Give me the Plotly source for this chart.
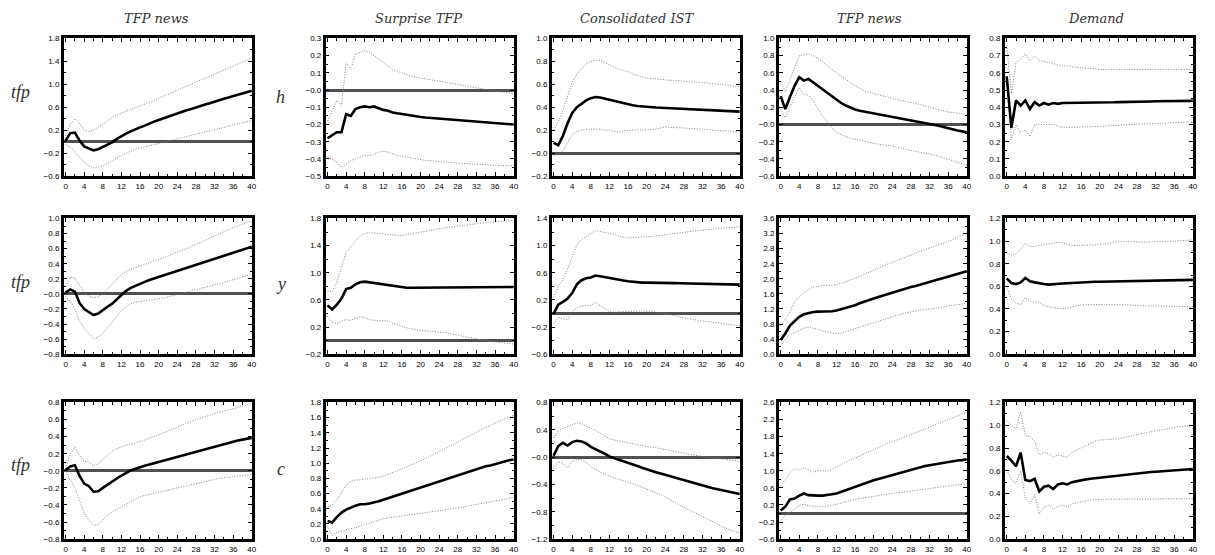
import plotly.graph_objects as go

steps = list(range(41))

# ---------------- Row 1 ----------------
p11_mean = [0.02,0.15,0.16,0.02,-0.08,-0.12,-0.15,-0.13,-0.09,-0.05,-0.01,0.05,0.10,0.14,0.18,0.22,0.25,0.28,0.32,0.35,0.38,0.41,0.44,0.47,0.50,0.52,0.55,0.57,0.60,0.62,0.65,0.67,0.70,0.72,0.75,0.77,0.80,0.82,0.84,0.87,0.89]
p11_upper = [0.10,0.30,0.40,0.32,0.20,0.18,0.20,0.25,0.30,0.36,0.42,0.47,0.50,0.53,0.56,0.59,0.62,0.65,0.69,0.72,0.76,0.79,0.83,0.86,0.90,0.93,0.97,1.00,1.04,1.07,1.11,1.14,1.18,1.21,1.25,1.28,1.32,1.35,1.39,1.42,1.46]
p11_lower = [-0.05,-0.10,-0.18,-0.28,-0.36,-0.42,-0.45,-0.44,-0.42,-0.38,-0.33,-0.28,-0.24,-0.20,-0.16,-0.13,-0.11,-0.09,-0.07,-0.05,-0.03,-0.01,0.01,0.03,0.05,0.07,0.09,0.11,0.13,0.15,0.17,0.19,0.21,0.23,0.25,0.27,0.29,0.31,0.33,0.35,0.37]

p12_mean = [-0.28,-0.26,-0.245,-0.245,-0.14,-0.15,-0.11,-0.10,-0.095,-0.10,-0.095,-0.105,-0.115,-0.12,-0.13,-0.135,-0.14,-0.145,-0.15,-0.153,-0.156,-0.159,-0.161,-0.163,-0.165,-0.167,-0.168,-0.17,-0.172,-0.174,-0.176,-0.178,-0.18,-0.182,-0.184,-0.186,-0.188,-0.19,-0.193,-0.196,-0.2]
p12_upper = [-0.18,-0.12,-0.06,-0.09,0.16,0.12,0.21,0.22,0.23,0.22,0.20,0.18,0.16,0.14,0.12,0.11,0.10,0.09,0.08,0.075,0.07,0.065,0.06,0.055,0.05,0.045,0.04,0.035,0.03,0.025,0.02,0.015,0.01,0.005,0.0,-0.003,-0.006,-0.009,-0.012,-0.015,-0.02]
p12_lower = [-0.39,-0.40,-0.42,-0.45,-0.43,-0.41,-0.40,-0.39,-0.38,-0.38,-0.375,-0.36,-0.355,-0.36,-0.37,-0.38,-0.385,-0.39,-0.395,-0.40,-0.405,-0.408,-0.41,-0.413,-0.415,-0.418,-0.42,-0.422,-0.424,-0.426,-0.428,-0.43,-0.432,-0.434,-0.435,-0.436,-0.437,-0.438,-0.439,-0.44,-0.44]

p13_mean = [0.09,0.07,0.15,0.26,0.35,0.40,0.43,0.46,0.48,0.49,0.485,0.475,0.465,0.455,0.445,0.435,0.425,0.418,0.412,0.407,0.403,0.40,0.398,0.396,0.394,0.392,0.39,0.388,0.386,0.384,0.382,0.38,0.378,0.376,0.374,0.372,0.37,0.368,0.366,0.364,0.362]
p13_upper = [0.20,0.27,0.37,0.50,0.62,0.69,0.74,0.78,0.80,0.81,0.81,0.79,0.77,0.75,0.73,0.72,0.71,0.69,0.675,0.665,0.655,0.65,0.645,0.64,0.64,0.635,0.635,0.63,0.63,0.625,0.62,0.62,0.615,0.61,0.605,0.60,0.595,0.59,0.585,0.58,0.58]
p13_lower = [-0.02,-0.01,0.02,0.09,0.16,0.19,0.20,0.21,0.21,0.21,0.21,0.20,0.20,0.19,0.185,0.195,0.20,0.20,0.205,0.20,0.20,0.205,0.21,0.22,0.23,0.225,0.225,0.22,0.22,0.215,0.215,0.21,0.21,0.205,0.20,0.20,0.195,0.195,0.19,0.19,0.19]

p14_mean = [0.33,0.18,0.32,0.45,0.55,0.51,0.53,0.49,0.44,0.40,0.36,0.32,0.28,0.25,0.22,0.195,0.175,0.16,0.15,0.14,0.13,0.12,0.11,0.10,0.09,0.08,0.07,0.06,0.05,0.04,0.03,0.02,0.01,0.0,-0.015,-0.03,-0.045,-0.06,-0.07,-0.08,-0.09]
p14_upper = [0.50,0.38,0.52,0.67,0.80,0.81,0.82,0.80,0.77,0.73,0.68,0.64,0.60,0.56,0.52,0.48,0.45,0.42,0.39,0.375,0.36,0.345,0.33,0.315,0.30,0.29,0.28,0.27,0.26,0.245,0.23,0.215,0.20,0.19,0.175,0.16,0.145,0.14,0.13,0.125,0.12]
p14_lower = [0.18,0.08,0.20,0.32,0.43,0.35,0.34,0.28,0.18,0.10,0.03,-0.04,-0.09,-0.12,-0.14,-0.16,-0.17,-0.18,-0.19,-0.205,-0.22,-0.23,-0.24,-0.245,-0.25,-0.26,-0.275,-0.29,-0.30,-0.31,-0.32,-0.33,-0.34,-0.355,-0.37,-0.385,-0.40,-0.42,-0.44,-0.455,-0.47]

p15_mean = [0.58,0.28,0.44,0.41,0.44,0.39,0.43,0.41,0.425,0.415,0.425,0.42,0.425,0.425,0.425,0.425,0.425,0.425,0.425,0.425,0.425,0.427,0.428,0.429,0.43,0.43,0.43,0.43,0.43,0.432,0.433,0.434,0.435,0.435,0.435,0.435,0.435,0.436,0.436,0.437,0.437]
p15_upper = [0.76,0.48,0.66,0.68,0.71,0.67,0.70,0.67,0.665,0.66,0.655,0.645,0.64,0.64,0.635,0.632,0.63,0.627,0.623,0.62,0.62,0.62,0.62,0.62,0.62,0.62,0.62,0.62,0.62,0.62,0.62,0.62,0.62,0.62,0.62,0.62,0.62,0.62,0.62,0.62,0.62]
p15_lower = [0.56,0.21,0.30,0.25,0.27,0.23,0.30,0.30,0.30,0.30,0.30,0.29,0.283,0.283,0.283,0.284,0.285,0.286,0.287,0.288,0.29,0.292,0.294,0.296,0.298,0.30,0.30,0.301,0.302,0.303,0.304,0.305,0.305,0.306,0.308,0.31,0.31,0.31,0.312,0.313,0.315]

# ---------------- Row 2 ----------------
p21_mean = [0.02,0.06,0.03,-0.12,-0.20,-0.24,-0.28,-0.26,-0.21,-0.17,-0.13,-0.07,-0.01,0.04,0.08,0.11,0.14,0.16,0.185,0.205,0.225,0.245,0.265,0.285,0.305,0.325,0.345,0.365,0.385,0.405,0.425,0.445,0.465,0.485,0.505,0.525,0.545,0.565,0.585,0.605,0.625]
p21_upper = [0.10,0.22,0.21,0.12,0.02,-0.03,-0.05,-0.04,0.0,0.06,0.13,0.20,0.26,0.30,0.33,0.35,0.37,0.39,0.41,0.43,0.45,0.48,0.50,0.53,0.55,0.58,0.60,0.63,0.65,0.68,0.71,0.74,0.77,0.80,0.82,0.85,0.88,0.90,0.93,0.95,0.97]
p21_lower = [-0.03,-0.10,-0.20,-0.36,-0.46,-0.53,-0.60,-0.57,-0.52,-0.45,-0.37,-0.29,-0.22,-0.17,-0.13,-0.11,-0.10,-0.09,-0.08,-0.075,-0.07,-0.055,-0.04,-0.02,0.0,0.01,0.025,0.04,0.05,0.07,0.085,0.10,0.12,0.135,0.15,0.17,0.19,0.205,0.22,0.24,0.26]

p22_mean = [0.52,0.46,0.53,0.62,0.76,0.78,0.83,0.86,0.87,0.86,0.85,0.84,0.83,0.815,0.80,0.79,0.785,0.78,0.78,0.78,0.78,0.78,0.782,0.785,0.787,0.79,0.79,0.79,0.79,0.79,0.79,0.79,0.79,0.79,0.79,0.79,0.79,0.79,0.79,0.79,0.79]
p22_upper = [0.73,0.72,0.86,1.10,1.30,1.38,1.47,1.54,1.58,1.59,1.59,1.58,1.57,1.56,1.55,1.55,1.55,1.56,1.57,1.585,1.60,1.61,1.625,1.64,1.65,1.66,1.67,1.68,1.69,1.70,1.71,1.72,1.73,1.735,1.74,1.745,1.75,1.755,1.76,1.765,1.77]
p22_lower = [0.36,0.27,0.25,0.29,0.31,0.30,0.33,0.35,0.34,0.31,0.30,0.30,0.30,0.29,0.26,0.23,0.21,0.19,0.175,0.16,0.15,0.145,0.14,0.135,0.13,0.12,0.11,0.095,0.08,0.065,0.05,0.035,0.02,0.01,0.0,-0.01,-0.02,-0.03,-0.04,-0.045,-0.05]

p23_mean = [-0.01,0.13,0.17,0.22,0.30,0.43,0.49,0.52,0.53,0.56,0.55,0.535,0.52,0.505,0.495,0.485,0.475,0.465,0.46,0.455,0.455,0.452,0.45,0.45,0.45,0.45,0.448,0.446,0.445,0.444,0.443,0.442,0.44,0.438,0.436,0.434,0.432,0.43,0.428,0.426,0.425]
p23_upper = [0.24,0.40,0.50,0.65,0.84,1.01,1.09,1.14,1.18,1.22,1.21,1.20,1.19,1.17,1.14,1.12,1.11,1.12,1.12,1.125,1.13,1.135,1.14,1.15,1.16,1.17,1.18,1.19,1.20,1.205,1.21,1.22,1.23,1.235,1.24,1.25,1.26,1.265,1.27,1.275,1.28]
p23_lower = [-0.15,-0.06,-0.07,-0.10,0.03,0.08,0.11,0.12,0.12,0.16,0.12,0.07,0.03,0.02,0.025,0.03,0.035,0.035,0.035,0.035,0.035,0.03,0.02,0.01,0.0,-0.015,-0.03,-0.05,-0.065,-0.08,-0.09,-0.10,-0.11,-0.12,-0.13,-0.14,-0.15,-0.16,-0.165,-0.17,-0.18]

p24_mean = [0.38,0.55,0.76,0.88,0.99,1.06,1.10,1.12,1.13,1.13,1.13,1.14,1.16,1.19,1.22,1.26,1.30,1.35,1.40,1.44,1.48,1.52,1.56,1.60,1.63,1.67,1.71,1.74,1.78,1.81,1.85,1.88,1.92,1.95,1.99,2.02,2.06,2.09,2.13,2.16,2.20]
p24_upper = [0.75,0.92,1.12,1.40,1.52,1.63,1.72,1.78,1.81,1.82,1.83,1.84,1.85,1.88,1.92,1.96,2.00,2.06,2.12,2.18,2.24,2.29,2.34,2.39,2.44,2.48,2.53,2.57,2.62,2.67,2.72,2.77,2.82,2.86,2.90,2.94,2.98,3.04,3.10,3.16,3.22]
p24_lower = [0.22,0.40,0.52,0.58,0.64,0.69,0.72,0.70,0.66,0.62,0.60,0.57,0.55,0.56,0.60,0.64,0.68,0.72,0.76,0.80,0.85,0.89,0.93,0.97,1.01,1.04,1.07,1.10,1.13,1.15,1.17,1.18,1.20,1.22,1.24,1.26,1.27,1.29,1.31,1.33,1.35]

p25_mean = [0.67,0.63,0.62,0.635,0.675,0.645,0.635,0.625,0.62,0.615,0.62,0.622,0.625,0.627,0.63,0.632,0.635,0.637,0.639,0.64,0.641,0.642,0.643,0.644,0.645,0.646,0.647,0.648,0.649,0.65,0.65,0.651,0.652,0.653,0.654,0.655,0.655,0.656,0.656,0.657,0.657]
p25_upper = [0.90,0.87,0.89,0.93,0.98,0.95,0.955,0.96,0.97,0.975,0.98,0.99,0.985,0.97,0.96,0.962,0.965,0.965,0.965,0.967,0.97,0.975,0.98,0.99,0.995,0.995,0.995,0.993,0.99,0.99,0.99,0.992,0.995,0.996,0.997,0.999,1.0,1.003,1.006,1.008,1.01]
p25_lower = [0.60,0.49,0.45,0.44,0.50,0.47,0.46,0.46,0.43,0.42,0.41,0.405,0.40,0.41,0.42,0.43,0.435,0.438,0.44,0.44,0.44,0.44,0.44,0.44,0.44,0.44,0.44,0.435,0.43,0.428,0.426,0.425,0.425,0.425,0.425,0.425,0.425,0.422,0.42,0.42,0.42]

# ---------------- Row 3 ----------------
p31_mean = [0.01,0.05,0.065,-0.06,-0.15,-0.18,-0.245,-0.24,-0.20,-0.16,-0.12,-0.09,-0.055,-0.02,0.005,0.025,0.045,0.06,0.075,0.09,0.105,0.12,0.135,0.15,0.165,0.18,0.195,0.21,0.225,0.24,0.255,0.27,0.285,0.30,0.315,0.33,0.345,0.355,0.365,0.375,0.385]
p31_upper = [0.03,0.19,0.28,0.18,0.11,0.10,0.06,0.08,0.13,0.18,0.23,0.26,0.28,0.30,0.31,0.325,0.34,0.36,0.38,0.40,0.42,0.44,0.465,0.49,0.51,0.53,0.555,0.58,0.60,0.62,0.635,0.65,0.67,0.685,0.70,0.71,0.725,0.74,0.755,0.77,0.785]
p31_lower = [-0.01,-0.10,-0.20,-0.35,-0.49,-0.58,-0.64,-0.63,-0.57,-0.52,-0.48,-0.45,-0.42,-0.39,-0.35,-0.32,-0.30,-0.29,-0.275,-0.26,-0.25,-0.24,-0.225,-0.21,-0.20,-0.19,-0.175,-0.16,-0.15,-0.14,-0.125,-0.11,-0.10,-0.09,-0.08,-0.075,-0.07,-0.06,-0.055,-0.05,-0.045]

p32_mean = [0.24,0.22,0.29,0.35,0.39,0.42,0.44,0.46,0.46,0.47,0.48,0.50,0.52,0.54,0.56,0.58,0.60,0.62,0.64,0.66,0.68,0.70,0.72,0.74,0.76,0.78,0.80,0.82,0.84,0.86,0.88,0.90,0.92,0.94,0.96,0.97,0.99,1.00,1.02,1.04,1.05]
p32_upper = [0.42,0.45,0.52,0.62,0.71,0.76,0.78,0.78,0.79,0.795,0.80,0.815,0.83,0.85,0.875,0.90,0.925,0.95,0.975,1.00,1.03,1.06,1.09,1.12,1.15,1.18,1.21,1.245,1.28,1.31,1.345,1.38,1.41,1.44,1.47,1.50,1.53,1.555,1.58,1.605,1.63]
p32_lower = [0.18,0.05,0.09,0.11,0.13,0.14,0.15,0.17,0.20,0.21,0.23,0.25,0.27,0.28,0.29,0.30,0.31,0.315,0.325,0.333,0.34,0.348,0.355,0.362,0.37,0.38,0.39,0.40,0.41,0.42,0.435,0.445,0.46,0.47,0.48,0.49,0.50,0.51,0.525,0.54,0.55]

p33_mean = [0.02,0.16,0.21,0.17,0.22,0.24,0.23,0.20,0.15,0.12,0.09,0.05,0.01,-0.02,-0.04,-0.06,-0.08,-0.105,-0.13,-0.155,-0.18,-0.20,-0.22,-0.24,-0.26,-0.28,-0.30,-0.32,-0.34,-0.36,-0.38,-0.395,-0.41,-0.43,-0.45,-0.465,-0.48,-0.495,-0.51,-0.525,-0.54]
p33_upper = [0.28,0.38,0.42,0.45,0.47,0.50,0.49,0.46,0.42,0.39,0.35,0.31,0.27,0.25,0.235,0.22,0.21,0.20,0.185,0.17,0.16,0.15,0.135,0.12,0.11,0.10,0.085,0.07,0.06,0.05,0.035,0.02,0.01,0.0,-0.01,-0.015,-0.02,-0.03,-0.04,-0.05,-0.06]
p33_lower = [-0.15,-0.07,-0.09,-0.16,-0.06,-0.03,-0.04,-0.08,-0.14,-0.18,-0.22,-0.25,-0.28,-0.30,-0.32,-0.345,-0.37,-0.39,-0.415,-0.44,-0.46,-0.49,-0.52,-0.55,-0.58,-0.62,-0.66,-0.70,-0.73,-0.77,-0.80,-0.84,-0.87,-0.90,-0.94,-0.97,-1.01,-1.04,-1.07,-1.09,-1.11]

p34_mean = [0.07,0.16,0.33,0.35,0.42,0.47,0.43,0.42,0.42,0.42,0.43,0.45,0.47,0.51,0.55,0.58,0.62,0.66,0.70,0.74,0.78,0.81,0.84,0.88,0.91,0.94,0.97,1.00,1.03,1.06,1.08,1.11,1.13,1.15,1.17,1.19,1.21,1.22,1.24,1.25,1.27]
p34_upper = [0.65,0.80,0.95,1.05,1.02,1.07,1.03,0.97,1.00,1.00,0.99,1.04,1.10,1.15,1.20,1.25,1.30,1.35,1.40,1.45,1.49,1.54,1.59,1.64,1.68,1.72,1.76,1.80,1.85,1.89,1.94,1.98,2.03,2.07,2.11,2.16,2.20,2.24,2.28,2.33,2.37]
p34_lower = [-0.20,-0.02,0.02,0.10,0.19,0.22,0.18,0.17,0.17,0.17,0.17,0.19,0.22,0.25,0.28,0.31,0.33,0.35,0.37,0.39,0.40,0.42,0.44,0.455,0.47,0.485,0.50,0.515,0.53,0.545,0.56,0.575,0.59,0.605,0.62,0.635,0.65,0.662,0.675,0.688,0.70]

p35_mean = [0.73,0.69,0.64,0.76,0.52,0.51,0.53,0.42,0.46,0.47,0.44,0.48,0.49,0.48,0.50,0.51,0.52,0.525,0.53,0.535,0.54,0.545,0.55,0.555,0.56,0.565,0.57,0.575,0.58,0.583,0.586,0.589,0.592,0.595,0.598,0.601,0.604,0.607,0.61,0.613,0.616]
p35_upper = [1.04,1.00,0.97,1.12,0.91,0.90,0.86,0.74,0.76,0.75,0.72,0.74,0.73,0.72,0.76,0.78,0.80,0.82,0.84,0.86,0.87,0.875,0.875,0.878,0.88,0.89,0.90,0.91,0.92,0.928,0.935,0.942,0.95,0.957,0.964,0.971,0.978,0.985,0.99,0.995,1.00]
p35_lower = [0.61,0.52,0.49,0.60,0.36,0.31,0.39,0.22,0.28,0.30,0.26,0.29,0.30,0.28,0.31,0.32,0.33,0.34,0.345,0.35,0.35,0.352,0.353,0.354,0.355,0.355,0.355,0.355,0.355,0.355,0.355,0.355,0.355,0.355,0.355,0.355,0.355,0.355,0.355,0.355,0.355]

col_titles = ["TFP news", "Surprise TFP", "Consolidated IST", "TFP news", "Demand"]
row_labels_left = ["tfp", "tfp", "tfp"]
row_labels_mid = ["h", "y", "c"]

# y axis: (min, max, tick step)
y_specs = [
    [(-0.6, 1.8, 0.4), (-0.5, 0.3, 0.1), (-0.2, 1.0, 0.2), (-0.6, 1.0, 0.2), (0.0, 0.8, 0.1)],
    [(-0.8, 1.0, 0.2), (-0.2, 1.8, 0.4), (-0.6, 1.4, 0.4), (0.0, 3.6, 0.4), (0.0, 1.2, 0.2)],
    [(-0.8, 0.8, 0.2), (0.0, 1.8, 0.2), (-1.2, 0.8, 0.4), (-0.6, 2.6, 0.4), (0.0, 1.2, 0.2)],
]
x_tick_vals = list(range(0, 41, 4))

panels = [
    [(p11_mean, p11_upper, p11_lower), (p12_mean, p12_upper, p12_lower), (p13_mean, p13_upper, p13_lower), (p14_mean, p14_upper, p14_lower), (p15_mean, p15_upper, p15_lower)],
    [(p21_mean, p21_upper, p21_lower), (p22_mean, p22_upper, p22_lower), (p23_mean, p23_upper, p23_lower), (p24_mean, p24_upper, p24_lower), (p25_mean, p25_upper, p25_lower)],
    [(p31_mean, p31_upper, p31_lower), (p32_mean, p32_upper, p32_lower), (p33_mean, p33_upper, p33_lower), (p34_mean, p34_upper, p34_lower), (p35_mean, p35_upper, p35_lower)],
]

W, H = 1215, 555
col_left = [64, 327, 554, 782, 1009]
col_w = 189
row_top = [35, 218, 405]
row_bot = [175, 356, 544]

fig = go.Figure()
layout = {}

def fmt(v, lo):
    if abs(v) < 1e-9:
        return "\u22120.0" if lo < 0 else "0.0"
    s = "%.1f" % v
    return s.replace("-", "\u2212")

k = 0
for r in range(3):
    for c in range(5):
        k += 1
        xa = "x" if k == 1 else "x%d" % k
        ya = "y" if k == 1 else "y%d" % k
        mean, upper, lower = panels[r][c]
        for series, dash, width, color in [(upper, "1px,1.6px", 1.0, "#808080"), (lower, "1px,1.6px", 1.0, "#808080"), (mean, "solid", 2.6, "#000000")]:
            fig.add_trace(go.Scatter(x=steps, y=series, mode="lines", xaxis=xa, yaxis=ya,
                                     line=dict(color=color, width=width, dash=dash),
                                     showlegend=False, hoverinfo="skip"))
        lo, hi, st = y_specs[r][c]
        n = int(round((hi - lo) / st))
        yt = [round(lo + i * st, 4) for i in range(n + 1)]
        ym = [round(lo + (i + 0.5) * st, 4) for i in range(n)]
        x0 = col_left[c] / W
        x1 = (col_left[c] + col_w) / W
        y0 = 1 - row_bot[r] / H
        y1 = 1 - row_top[r] / H
        tickfont = dict(family="Liberation Sans", size=8, color="#000")
        layout["xaxis" if k == 1 else "xaxis%d" % k] = dict(
            domain=[x0, x1], anchor=ya, range=[-0.4, 40.05],
            tickmode="array", tickvals=x_tick_vals, ticktext=[str(v) for v in x_tick_vals],
            ticks="inside", ticklen=4, tickwidth=1, tickcolor="#000",
            minor=dict(tickmode="array", tickvals=list(range(2, 40, 4)), ticks="inside", ticklen=2.5, tickwidth=1, tickcolor="#000"),
            showline=True, linewidth=2.5, linecolor="#000", mirror="ticks",
            showgrid=False, zeroline=False, tickfont=tickfont, fixedrange=True)
        layout["yaxis" if k == 1 else "yaxis%d" % k] = dict(
            domain=[y0, y1], anchor=xa, range=[lo, hi],
            tickmode="array", tickvals=yt, ticktext=[fmt(v, lo) for v in yt],
            ticks="inside", ticklen=4, tickwidth=1, tickcolor="#000",
            minor=dict(tickmode="array", tickvals=ym, ticks="inside", ticklen=2.5, tickwidth=1, tickcolor="#000"),
            showline=True, linewidth=2.5, linecolor="#000", mirror="ticks",
            showgrid=False, zeroline=(lo < 0), zerolinecolor="#505050", zerolinewidth=3.2,
            tickfont=tickfont, fixedrange=True)

annotations = []
title_x = [157, 420, 640, 873, 1101]
for c, t in enumerate(col_titles):
    annotations.append(dict(text="<i>%s</i>" % t, x=title_x[c] / W, y=1 - 15 / H, xref="paper", yref="paper",
                            showarrow=False, xanchor="center", yanchor="middle",
                            font=dict(family="DejaVu Serif", size=13, color="#333")))
row_label_y = [[89, 95], [283, 285], [469, 473]]
for r in range(3):
    annotations.append(dict(text="<i>%s</i>" % row_labels_left[r], x=21 / W, y=1 - row_label_y[r][0] / H,
                            xref="paper", yref="paper", showarrow=False, xanchor="center", yanchor="middle",
                            font=dict(family="Liberation Serif", size=18, color="#333")))
    annotations.append(dict(text="<i>%s</i>" % row_labels_mid[r], x=282 / W, y=1 - row_label_y[r][1] / H,
                            xref="paper", yref="paper", showarrow=False, xanchor="center", yanchor="middle",
                            font=dict(family="Liberation Serif", size=18, color="#333")))

fig.update_layout(**layout)
fig.update_layout(width=W, height=H, margin=dict(l=0, r=0, t=0, b=0),
                  paper_bgcolor="white", plot_bgcolor="white",
                  annotations=annotations, showlegend=False)
fig.write_html("out.html")
